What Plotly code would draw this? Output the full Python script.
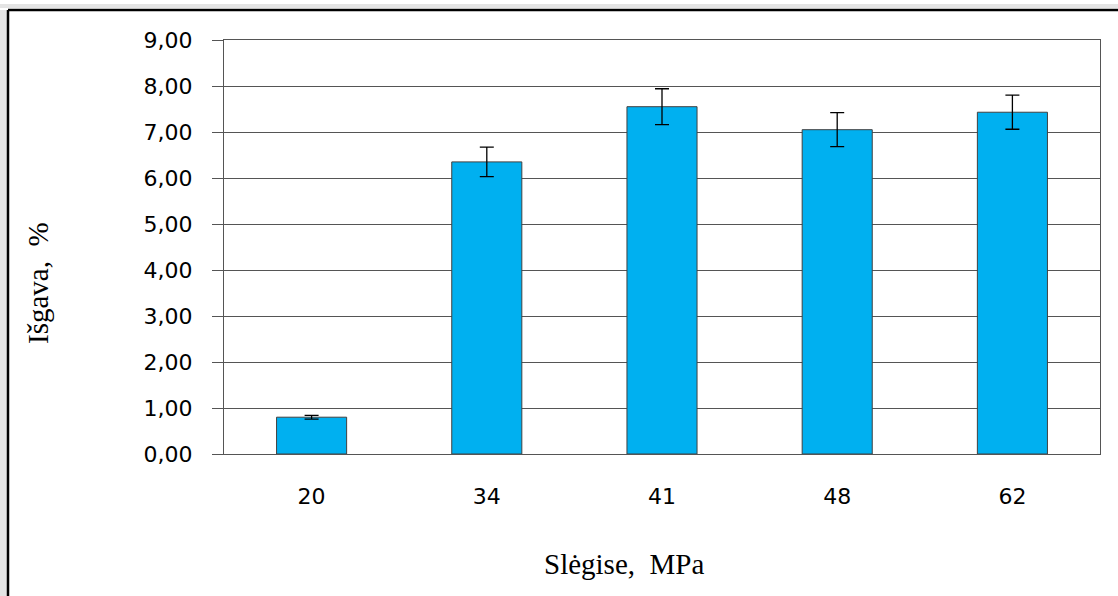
import plotly.graph_objects as go

categories = ["20", "34", "41", "48", "62"]
values = [0.80, 6.35, 7.55, 7.05, 7.43]
errors = [0.04, 0.32, 0.39, 0.37, 0.37]
y_ticks = [0, 1, 2, 3, 4, 5, 6, 7, 8, 9]
y_tick_labels = ["0,00", "1,00", "2,00", "3,00", "4,00", "5,00", "6,00", "7,00", "8,00", "9,00"]

W, H = 1118, 596
L, R, T, B = 224, 18, 40, 142
pw, ph = W - L - R, H - T - B

def px_x(x):
    return (x - L) / pw

def px_y(y):
    return 1 - (y - T) / ph

fig = go.Figure()
fig.add_trace(go.Bar(
    x=categories, y=values,
    marker=dict(color="#00B0F0", line=dict(color="#404040", width=1)),
    error_y=dict(type="data", array=errors, visible=True, color="black", thickness=1.3, width=7),
    width=0.4,
))

grid = "#555555"
fig.update_layout(
    width=W, height=H,
    margin=dict(l=L, r=R, t=T, b=B),
    paper_bgcolor="white", plot_bgcolor="white",
    showlegend=False,
    font=dict(family="DejaVu Sans", size=22, color="black"),
    xaxis=dict(
        type="category", showline=True, linecolor=grid, linewidth=1.3, mirror=True,
        ticks="", showgrid=False, tickfont=dict(size=22), ticklabelstandoff=22,
    ),
    yaxis=dict(
        range=[0, 9], tickvals=y_ticks, ticktext=y_tick_labels,
        showline=True, linecolor=grid, linewidth=1.3, mirror=True,
        showgrid=True, gridcolor=grid, gridwidth=1.3,
        ticks="outside", ticklen=11, tickcolor=grid, tickwidth=1.3,
        tickfont=dict(size=22), ticklabelstandoff=15, zeroline=False,
    ),
    shapes=[
        dict(type="rect", xref="paper", yref="paper", x0=px_x(0), x1=px_x(7), y0=px_y(596), y1=px_y(10),
             fillcolor="#e4e4e4", line=dict(width=0), layer="below"),
        dict(type="rect", xref="paper", yref="paper", x0=px_x(0), x1=px_x(1118), y0=px_y(8), y1=px_y(4),
             fillcolor="#e4e4e4", line=dict(width=0), layer="below"),
        dict(type="line", xref="paper", yref="paper", x0=px_x(8), x1=px_x(1118), y0=px_y(10), y1=px_y(10),
             line=dict(color="black", width=2.5)),
        dict(type="line", xref="paper", yref="paper", x0=px_x(8), x1=px_x(8), y0=px_y(10), y1=px_y(600),
             line=dict(color="black", width=2.5)),
    ],
    annotations=[
        dict(text="Slėgise,\u00a0\u00a0MPa", xref="paper", yref="paper", x=px_x(624), y=px_y(564),
             showarrow=False, xanchor="center", yanchor="middle",
             font=dict(family="Liberation Serif", size=29, color="black")),
        dict(text="Išgava,\u00a0\u00a0%", xref="paper", yref="paper", x=px_x(38), y=px_y(283),
             showarrow=False, xanchor="center", yanchor="middle", textangle=-90,
             font=dict(family="Liberation Serif", size=29, color="black")),
    ],
)

fig.write_html("out.html")
